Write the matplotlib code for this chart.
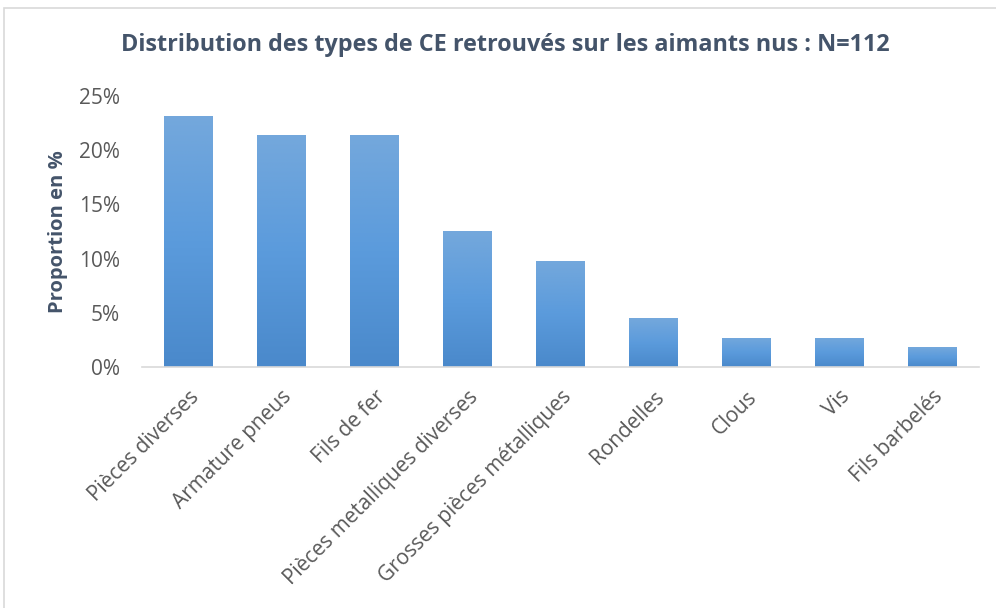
import matplotlib
matplotlib.use('Agg')
import matplotlib.pyplot as plt
from matplotlib.patches import Rectangle
from matplotlib.ticker import FuncFormatter
import numpy as np

# donnees (N=112)
categories = ['Pièces diverses', 'Armature pneus', 'Fils de fer',
              'Pièces metalliques diverses', 'Grosses pièces métalliques',
              'Rondelles', 'Clous', 'Vis', 'Fils barbelés']
proportions = [23.2, 21.4, 21.4, 12.5, 9.8, 4.5, 2.7, 2.7, 1.8]

titre = 'Distribution des types de CE retrouvés sur les aimants nus : N=112'
ylabel = 'Proportion en %'

plt.rcParams['font.family'] = ['Open Sans', 'DejaVu Sans']

fig = plt.figure(figsize=(9.96, 6.08), dpi=100)
ax = fig.add_axes([0.1426, 0.3964, 0.8404, 0.4457])

# cadre du graphique
fig.patches.append(Rectangle((4 / 996, -0.1), 1.2, 1 - 8 / 608 + 0.1,
                             transform=fig.transFigure, fill=False,
                             edgecolor='#d9d9d9', linewidth=1.2))

x = np.arange(len(categories))
bars = ax.bar(x, proportions, width=0.52, color='none', zorder=2)

# degrade vertical dans chaque barre (clair en haut, fonce en bas)
grad = np.linspace(0, 1, 256).reshape(-1, 1)
cmap = matplotlib.colors.LinearSegmentedColormap.from_list(
    'bleu', ['#4a89cb', '#5b9bdc', '#74a8dc'])
for b in bars:
    x0, y0 = b.get_x(), b.get_y()
    w, h = b.get_width(), b.get_height()
    im = ax.imshow(grad, extent=[x0, x0 + w, y0, y0 + h], origin='lower',
                   cmap=cmap, aspect='auto', zorder=2)
    im.set_clip_path(b)

ax.set_xlim(-0.5, len(categories) - 0.5)
ax.set_ylim(0, 25)
ax.set_yticks([0, 5, 10, 15, 20, 25])
ax.yaxis.set_major_formatter(FuncFormatter(lambda v, p: f'{v:.0f}%'))
ax.set_xticks(x)
ax.set_xticklabels(categories, rotation=45, ha='right', rotation_mode='anchor')

for s in ['top', 'right', 'left']:
    ax.spines[s].set_visible(False)
ax.spines['bottom'].set_color('#d9d9d9')
ax.spines['bottom'].set_linewidth(1.2)
ax.tick_params(axis='both', length=0, labelcolor='#595959')
ax.tick_params(axis='y', pad=16, labelsize=15)
ax.tick_params(axis='x', pad=14, labelsize=15)

ax.set_ylabel(ylabel, fontsize=14.5, fontweight='bold', color='#44546a', labelpad=8)
fig.text(0.507, 1 - 45 / 608, titre, ha='center', va='center',
         fontsize=16.8, fontweight='bold', color='#44546a')

fig.savefig('out.png', dpi=100)
